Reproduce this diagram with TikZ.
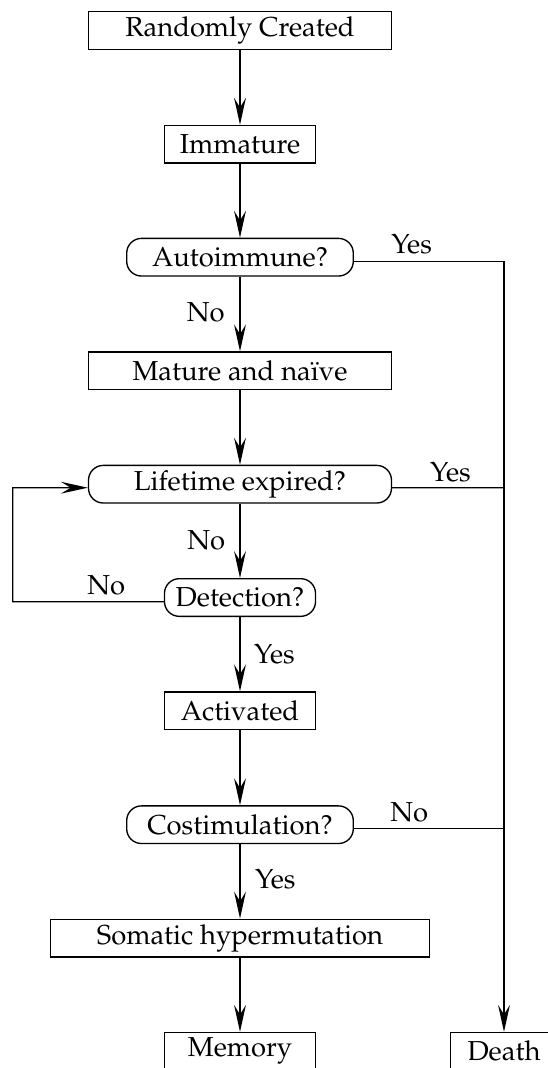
\documentclass[tikz,border=0pt]{standalone}
\usepackage[T1]{fontenc}
\usepackage{mathpazo}
\usetikzlibrary{arrows.meta,calc}
\begin{document}
\begin{tikzpicture}[x=0.372pt,y=-0.372pt,
  box/.style={draw, line width=0.5pt, minimum height=14pt, inner sep=0pt,
    font=\fontsize{10.2}{12}\selectfont},
  dec/.style={box, rounded corners=5.5pt},
  lbl/.style={inner sep=0pt, font=\fontsize{10.2}{12}\selectfont},
  conn/.style={line width=0.5pt},
  arr/.style={conn, -{Stealth[length=10pt,width=4.4pt,inset=3.6pt]}}
]
\useasboundingbox (0,0) rectangle (548,1068);
\clip (0,0) rectangle (548,1068);

\node[box, minimum width=112.7pt] (rc)    at (240,30.5)   {Randomly Created};
\node[box, minimum width=56.2pt]  (imm)   at (240,144.2)  {Immature};
\node[dec, minimum width=84.3pt]  (auto)  at (240,257.2)  {Autoimmune?};
\node[box, minimum width=112.7pt] (mat)   at (240,370.8)  {Mature and na\"{\i}ve};
\node[dec, minimum width=112.7pt] (life)  at (240,484.2)  {Lifetime expired?};
\node[dec, minimum width=56.2pt]  (det)   at (240,597.5)  {Detection?};
\node[box, minimum width=56.2pt]  (act)   at (240,710.8)  {Activated};
\node[dec, minimum width=84.3pt]  (cost)  at (240,824.7)  {Costimulation?};
\node[box, minimum width=140.8pt] (som)   at (240,938)    {Somatic hypermutation};
\node[box, minimum width=56.2pt]  (mem)   at (240,1051.3) {Memory};
\node[box, minimum width=39.7pt]  (death) at (504,1051.3) {Death};

\draw[arr] (rc) -- (imm);
\draw[arr] (imm) -- (auto);
\draw[arr] (auto) -- (mat);
\draw[arr] (mat) -- (life);
\draw[arr] (life) -- (det);
\draw[arr] (det) -- (act);
\draw[arr] (act) -- (cost);
\draw[arr] (cost) -- (som);
\draw[arr] (som) -- (mem);

\coordinate (r1) at (504,261.2);
\coordinate (r2) at (504,487.7);
\coordinate (r3) at (504,828.4);
\draw[conn] ($(auto.east)+(0,4)$) -- (r1);
\draw[conn] ($(life.east)+(0,3.5)$) -- (r2);
\draw[conn] ($(cost.east)+(0,3.7)$) -- (r3);
\draw[arr] (r1) -- (death);

\coordinate (l1) at (12.7,601.7);
\coordinate (l2) at (12.7,487.7);
\draw[arr] ($(det.west)+(0,4.2)$) -- (l1) -- (l2) -- ($(life.west)+(0,3.5)$);

\node[lbl] (yes1) at (411.7,244)   {Yes};
\node[lbl] (no1)  at (205.8,312.5) {No};
\node[lbl] (yes2) at (450.5,472)   {Yes};
\node[lbl] (no2)  at (206.2,540)   {No};
\node[lbl] (no3)  at (106.2,585)   {No};
\node[lbl] (yes3) at (274.5,653.8) {Yes};
\node[lbl] (no4)  at (409.3,812.5) {No};
\node[lbl] (yes4) at (275.3,879.3) {Yes};
\end{tikzpicture}
\end{document}
